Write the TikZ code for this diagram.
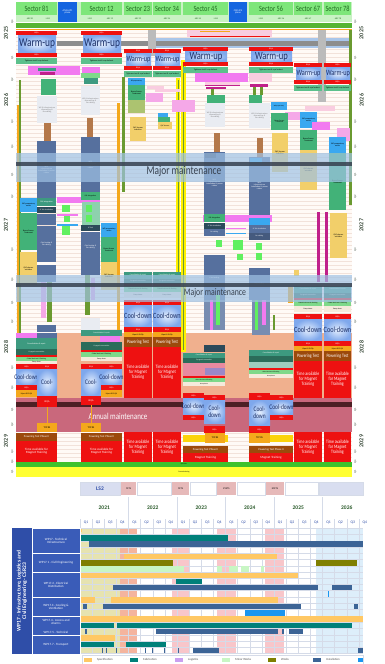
\documentclass[tikz,border=0pt]{standalone}
\usepackage{fontspec}
\setmainfont{Carlito}
\newfontfamily\cnd[FakeStretch=0.78]{Carlito}
\definecolor{cHd}{HTML}{7EE67A}\definecolor{cHdT}{HTML}{1F6A1F}\definecolor{cHsub}{HTML}{C9F2C4}
\definecolor{cIP}{HTML}{1565E0}\definecolor{cBand}{HTML}{55B534}\definecolor{cRd}{HTML}{EE1111}
\definecolor{cWuIn}{HTML}{E4EEFD}\definecolor{cWuOut}{HTML}{7FA8EC}\definecolor{cWuT}{HTML}{1C2F66}
\definecolor{cTg}{HTML}{5CC08C}\definecolor{cGray}{HTML}{8D8D8D}\definecolor{cLB}{HTML}{A9C6EA}
\definecolor{cSB}{HTML}{56709E}\definecolor{cBr}{HTML}{B4784A}\definecolor{cMj}{HTML}{9FC2E4}
\definecolor{cDk}{HTML}{36404E}\definecolor{cSal}{HTML}{F0B08E}\definecolor{cAn}{HTML}{C9687C}
\definecolor{cAnD}{HTML}{4D1F24}\definecolor{cPw}{HTML}{9C4A0C}\definecolor{cOr}{HTML}{F4A81C}
\definecolor{cYl}{HTML}{FFF000}\definecolor{cMg}{HTML}{F27AF0}\definecolor{cMgL}{HTML}{F5A8E8}
\definecolor{cMgD}{HTML}{C0208A}\definecolor{cLg}{HTML}{E9ECF2}\definecolor{cBs}{HTML}{3AA8F0}
\definecolor{cBst}{HTML}{42B278}\definecolor{cQx}{HTML}{F2CF6A}\definecolor{cTl}{HTML}{3D9A80}
\definecolor{cCream}{HTML}{F5EADB}\definecolor{cBg}{HTML}{FFFAF6}\definecolor{cLn}{HTML}{F2E2DA}
\definecolor{cOl}{HTML}{6A9A30}\definecolor{cGr}{HTML}{60F060}\definecolor{cGr2}{HTML}{7ED98A}
\definecolor{cDkT}{HTML}{2C4A5A}\definecolor{cPkL}{HTML}{F9CDE0}\definecolor{cRose}{HTML}{E88AA0}
\definecolor{cPur}{HTML}{9A88C8}\definecolor{cGrB}{HTML}{3FC22C}\definecolor{cYlB}{HTML}{FFFF33}
\definecolor{cAx}{HTML}{3A4A3A}
\definecolor{gSpec}{HTML}{FFC864}\definecolor{gFab}{HTML}{00807A}\definecolor{gLog}{HTML}{CAA0F0}
\definecolor{gMin}{HTML}{C8F6C4}\definecolor{gWrk}{HTML}{7F7F00}\definecolor{gIns}{HTML}{3C6496}
\definecolor{gBlue}{HTML}{1A96F0}\definecolor{gKh}{HTML}{E6E3B0}\definecolor{gSalm}{HTML}{F4B49E}
\definecolor{gPk}{HTML}{F8C6CA}\definecolor{gLb}{HTML}{DDEEFA}\definecolor{gHd}{HTML}{D9DEF0}
\definecolor{gNav}{HTML}{2F4EA8}\definecolor{gNav2}{HTML}{3A5CB8}\definecolor{gLine}{HTML}{D5DBE8}
\definecolor{gPkH}{HTML}{E6B9B9}\definecolor{gYr}{HTML}{2A5A2A}
\newcounter{nd}
\newcommand\R[5]{\path[#5] (#1,#2) rectangle (#3,#4);}
\newcommand\B[7]{\path[#5] (#1,#2) rectangle (#3,#4);\stepcounter{nd}\node[#6] (n\arabic{nd}) at ({(#1+#3)/2},{(#2+#4)/2}) {#7};}
\newcommand\WU[5]{%
 \B{#1}{#3}{#2}{#3+4}{fill=cRd}{tx=2,text=white}{EIQA}
 \B{#1+2}{#3+4}{#2-1}{#4}{wu}{cx=#5,text=cWuT}{Warm-up}
 \B{#1}{#4}{#2}{#4+3.5}{fill=cRd}{tx=2,text=white}{EIQA}
 \B{#1}{#4+4.5}{#2}{#4+11}{fill=cTg}{tx=2}{Tightness test \& cryo lockout}}
\newcommand\CD[6]{%
 \B{#1}{#3}{#2}{#3+5}{fill=cRd}{tx=2,text=white}{EIQA}
 \B{#1}{#3+5}{#2}{#4}{wu}{cx=#5,text=cWuT}{#6}
 \B{#1}{#4}{#2}{#4+5}{fill=cRd}{tx=2,text=white}{EIQA}}
\newcommand\LW[3]{%
 \B{#1}{272+#3}{#2}{279+#3}{fill=cTl}{tx=1.8,text=white}{Consolidation \& repair}
 \B{#1}{279+#3}{#2}{284+#3}{fill=cTl!70!black}{tx=1.8,text=white}{Cryogenic connection}
 \R{#1}{284+#3}{#2}{286+#3}{fill=cRd}
 \B{#1}{286+#3}{#2}{292+#3}{fill=cGr2}{tx=1.8}{Global leak test \& flushing}
 \B{#1}{292+#3}{#2}{298+#3}{fill=cCream}{tx=1.8}{Pump down}
 \CD{#1}{#2}{300+#3}{327+#3}{8}{Cool-down}
 \B{#1}{332+#3}{#2}{337+#3}{fill=cOr}{tx=2}{Hipot \& ELQA}
 \B{#1}{337+#3}{#2}{347+#3}{fill=cPw}{cx=5,text=white}{Powering Test}
 \B{#1}{347+#3}{#2}{398}{fill=cRd}{cx=5,text=white}{Time available\\for Magnet\\Training}
 \B{#1}{432}{#2}{462}{fill=cRd}{cx=5,text=white}{Time available\\for Magnet\\Training}}
\tikzset{
 tx/.style={inner sep=0pt,align=center,font=\fontsize{#1}{#1}\selectfont}, tx/.default=3,
 cx/.style={inner sep=0pt,align=center,font=\cnd\fontsize{#1}{#1}\selectfont}, cx/.default=8,
 txb/.style={inner sep=0pt,align=center,font=\bfseries\fontsize{#1}{#1}\selectfont}, txb/.default=5,
 wu/.style={inner color=cWuIn,outer color=cWuOut}
}
\begin{document}
\begin{tikzpicture}[x=1pt,y=-1pt]
\useasboundingbox (0,0) rectangle (384,664);
\fill[white] (0,0) rectangle (384,664);
% ===== header =====
\R{16}{2}{352}{22}{fill=cHsub}
\B{16}{2}{57}{15}{fill=cHd}{cx=8,text=cHdT}{Sector 81}
\B{81}{2}{122}{15}{fill=cHd}{cx=8,text=cHdT}{Sector 12}
\B{124}{2}{152}{15}{fill=cHd}{cx=8,text=cHdT}{Sector 23}
\B{153}{2}{181}{15}{fill=cHd}{cx=8,text=cHdT}{Sector 34}
\B{183}{2}{228}{15}{fill=cHd}{cx=8,text=cHdT}{Sector 45}
\B{249}{2}{293}{15}{fill=cHd}{cx=8,text=cHdT}{Sector 56}
\B{294}{2}{322}{15}{fill=cHd}{cx=8,text=cHdT}{Sector 67}
\B{324}{2}{351}{15}{fill=cHd}{cx=8,text=cHdT}{Sector 78}
\B{58}{2}{77}{22}{fill=cIP}{tx=2.5,text=white}{ATLAS IP1\\plane}
\B{229}{2}{247}{22}{fill=cIP}{tx=2.5,text=white}{CMS IP5\\plane}
\foreach \x/\t in {30/ARC 81,48/LSS1,90/LSS1,110/ARC 12,138/ARC 23,167/ARC 34,198/ARC 45,216/LSS5,261/LSS5,281/ARC 56,308/ARC 67,338/ARC 78}
  \node[tx=2.2,text=cHdT] (h\x) at (\x,18.5) {\t};
\R{16}{23}{352}{28}{fill=cBand}
\R{16}{28.5}{352}{29.5}{fill=cOr}
% ===== chart background =====
\R{16}{29.5}{352}{462}{fill=cBg}
\foreach \y in {33,37,...,460} \draw[cLn,line width=0.2pt] (16,\y) -- (352,\y);
\R{16}{333}{352}{398}{fill=cSal}
\R{16}{398}{352}{432}{fill=cAn}
\R{16}{402}{352}{407}{fill=cAnD}
\node[cx=9,text=white] (annual) at (118,416) {Annual maintenance};
% axis labels
\foreach \y/\t in {33/2025,100/2026,225/2027,347/2028,441/2029}{
  \node[txb=6,text=cAx,rotate=90] (yl\y) at (6,\y) {\t};
  \node[txb=6,text=cAx,rotate=90] (yr\y) at (361.5,\y) {\t};}
\foreach \y/\t in {22/Q4,58/Q1,80/Q2,122/Q3,147/Q4,175/Q1,197/Q2,250/Q3,280/Q4,303/Q1,322/Q2,368/Q3,388/Q4,410/Q1,425/Q2,452/Q3,462/Q4,472/Q1}{
  \node[tx=2.8,text=cAx,rotate=90] (ql\y) at (12.5,\y) {\t};
  \node[tx=2.8,text=cAx,rotate=90] (qr\y) at (355.5,\y) {\t};}
% top strip
\R{187}{30}{272}{37}{fill=cPkL}
\R{200}{31}{230}{32}{fill=cOr}
\R{190}{36}{270}{37}{fill=cRd}
\R{150}{38}{352}{48}{fill=cLB}
\R{57}{41}{352}{46}{fill=cGray}
\R{148}{29.5}{156}{56}{fill=cGray!60}
\R{318}{29.5}{326}{102}{fill=cGray!60}
% vertical strips
\R{17}{105}{19}{333}{fill=cOr}
\R{19}{80}{20.5}{333}{fill=cOl}
\R{117}{103}{120}{333}{fill=cOr}
\R{122}{77}{125}{192}{fill=cOl}
\R{349}{30}{352}{205}{fill=cOl}
\R{176}{78}{180}{287}{fill=cYl}
\R{181}{60}{186}{352}{fill=cYl}
\draw[cOl,line width=0.4pt] (178,80) -- (178,285) (183.5,62) -- (183.5,350);
% warm-ups
\WU{16}{57}{31}{53}{12}
\WU{81}{122}{31}{53}{12}
\WU{124}{152}{49}{66}{8}
\WU{153}{181}{49}{66}{8}
\WU{183}{228}{47}{62}{11}
\WU{249}{293}{47}{62}{11}
\WU{294}{322}{63}{80}{8}
\WU{324}{351}{63}{80}{8}
% ===== Sector 81 =====
\R{28}{66}{80}{75}{fill=cMg}
\R{38}{68}{56}{71}{fill=cTl}
\R{40}{72}{55}{75}{fill=cMgD}
\R{41}{79}{56}{95}{fill=cBst}
\B{37}{96}{57}{123}{fill=cLg}{tx=2,text=gray}{WS \& infrastructure\\dismantling \&\\Re-cabling}
\R{44}{123}{51}{141}{fill=cBr}
\B{37}{141}{56}{198}{fill=cSB}{tx=2,text=white}{WLS\\infrastructure\\installation \& power\\cables}
\B{37}{198}{56}{206}{fill=cTl}{tx=2,text=white}{DSL integration}
\B{37}{207}{56}{213}{fill=cDkT}{tx=1.8,text=white}{SC link installation}
\R{37}{214}{56}{225}{fill=cSB}
\B{37}{226}{56}{262}{fill=cSB}{tx=2,text=white}{Cold testing \&\\Re-cabling}
\B{20}{198}{37}{212}{fill=cBs}{tx=2}{WP preparatory\\works}
\B{20}{213}{37}{250}{fill=cBst}{tx=2}{Beam Screen\\Treatment}
\R{57}{197}{100}{203}{fill=cMg}
\R{62}{205}{70}{212}{fill=cGr}\R{64}{216}{70}{222}{fill=cGr}\R{62}{226}{70}{235}{fill=cGr}
\R{57}{214}{78}{215.5}{fill=cMg}\R{57}{224}{78}{225.5}{fill=cBs}
\B{20}{252}{37}{285}{fill=cQx}{tx=2}{QXF shower\\activities}
\R{37}{265}{56}{282}{fill=cSB}
\R{41}{282}{46}{318}{fill=cMgL}\R{47}{282}{52}{322}{fill=cOl}
\R{37}{325}{56}{332}{fill=cSB}
\R{16}{333}{37}{338}{fill=cMg}\R{37}{333}{57}{338}{fill=cSB}
\B{16}{338}{57}{349}{fill=cTl}{tx=2,text=white}{Consolidation \& repair}
\B{16}{349}{57}{355}{fill=cTl!70!black}{tx=1.8,text=white}{Cryogenic connection}
\R{16}{355}{57}{357}{fill=cRd}
\B{16}{357}{57}{361}{fill=cGr2}{tx=1.8}{Global leak test \& flushing}
\B{16}{361}{57}{364}{fill=cCream}{tx=1.8}{Pump down}
\CD{16}{37}{364}{385}{7}{Cool-down}
\B{16}{390}{37}{397}{fill=cOr}{tx=2}{Hipot \& ELQA}
\B{37}{364}{57}{369}{fill=cRd}{tx=2,text=white}{EIQA}
\B{37}{369}{57}{396}{wu}{cx=7,text=cWuT}{Cool-}
\B{37}{396}{57}{407}{fill=cRd}{tx=2.5,text=white}{EIQA}
\draw[cOr,line width=0.6pt] (47,407) -- (47,423);
\B{37}{423}{57}{432}{fill=cOr}{tx=2.5}{TFP RS}
\B{16}{433}{57}{441}{fill=cPw}{tx=2.8,text=white}{Powering Test Phase II}
\B{16}{441}{57}{462}{fill=cRd}{tx=3.2,text=white}{Time available for\\Magnet Training}
% ===== Sector 12 =====
\R{82}{67}{100}{73}{fill=cMg}\R{81}{73}{100}{78}{fill=cGr2}\R{84}{78}{98}{84}{fill=cTl}
\B{81}{86}{100}{115}{fill=cLg}{tx=2,text=gray}{WS \& infrastructure\\dismantling \&\\Re-cabling}
\R{87}{118}{93}{137}{fill=cBr}
\B{81}{137}{100}{192}{fill=cSB}{tx=2,text=white}{WLS\\infrastructure\\installation \& power\\cables}
\B{81}{192}{100}{200}{fill=cBst}{tx=1.8}{DSL integration}
\R{82}{202}{100}{225}{fill=cBst!60}
\R{86}{205}{92}{212}{fill=cGr}\R{86}{215}{92}{222}{fill=cGr}
\B{81}{225}{100}{231}{fill=cDkT}{tx=1.8,text=white}{SC link}
\B{81}{232}{100}{262}{fill=cSB}{tx=2,text=white}{Cold testing \&\\Re-cabling}
\B{101}{223}{117}{237}{fill=cBs}{tx=2}{WP preparatory\\works}
\B{101}{237}{117}{262}{fill=cBst}{tx=2}{Beam Screen\\Treatment}
\B{101}{262}{117}{290}{fill=cQx}{tx=2}{QXF shower\\activities}
\R{81}{262}{100}{275}{fill=cSB}\R{85}{275}{90}{315}{fill=cOl}\R{91}{278}{95}{300}{fill=cMgL}\R{81}{318}{100}{330}{fill=cLg}
\B{81}{330}{122}{336}{fill=cTl}{tx=1.8,text=white}{Consolidation \& repair}
\R{100}{336}{120}{342}{fill=cMg}
\B{81}{342}{122}{350}{fill=cTl!70!black}{tx=1.8,text=white}{Cryogenic connection}
\R{81}{350}{122}{352}{fill=cRd}
\B{81}{352}{122}{357}{fill=cGr2}{tx=1.8}{Global leak test \& flushing}
\B{81}{357}{122}{361}{fill=cCream}{tx=1.8}{Pump down}
\B{81}{364}{101}{369}{fill=cRd}{tx=2,text=white}{EIQA}
\B{81}{369}{101}{396}{wu}{cx=7,text=cWuT}{Cool-}
\B{81}{396}{101}{405}{fill=cRd}{tx=2.5,text=white}{EIQA}
\draw[cOr,line width=0.6pt] (91,405) -- (91,423);
\B{81}{423}{101}{432}{fill=cOr}{tx=2.5}{TFP RS}
\CD{101}{122}{364}{385}{7}{Cool-down}
\B{101}{390}{122}{397}{fill=cOr}{tx=2}{Hipot \& ELQA}
\B{81}{433}{122}{441}{fill=cPw}{tx=2.8,text=white}{Powering Test Phase II}
\B{81}{441}{122}{462}{fill=cRd}{tx=3.2,text=white}{Time available for\\Magnet Training}
% ===== Sectors 23 / 34 =====
\B{128}{78}{145}{85}{fill=cBs}{tx=1.8}{BS preparatory}
\B{128}{85}{145}{100}{fill=cBst}{tx=2}{Beam Screen\\Treatment}
\R{128}{100}{145}{113}{fill=cQx!60!cBst}
\B{130}{117}{146}{141}{fill=cQx}{tx=2}{QXF shower\\activities}
\R{147}{86}{164}{89}{fill=cPkL}\R{146}{93}{163}{102}{fill=cMgL}
\R{155}{89}{180}{92}{fill=cPkL}
\R{172}{100}{195}{112}{fill=cMgL}
\R{158}{113}{168}{117}{fill=cBs}\R{158}{117}{170}{122}{fill=cBst}
\B{158}{122}{172}{129}{fill=cQx}{tx=1.8}{QXF shower}
\LW{124}{152}{0}
\LW{153}{181}{0}
% ===== Sector 45 =====
\R{195}{73}{248}{82}{fill=cMg}
\R{205}{82}{240}{85.5}{fill=cPkL}
\R{205}{85}{240}{86}{fill=cMgD}\R{206}{87}{226}{89}{fill=cMgD}
\R{211}{89}{214}{96}{fill=cOl}\R{207}{95}{225}{103}{fill=cBst}
\B{205}{103}{225}{127}{fill=cLg}{tx=2,text=gray}{WS \& infrastructure\\dismantling \&\\Re-cabling}
\R{214}{133}{220}{152}{fill=cBr}
\B{204}{152}{225}{214}{fill=cSB}{tx=2,text=white}{WLS\\infrastructure\\installation \& power\\cables}
\R{205}{153}{216}{158}{fill=cSB!70!black}
\R{203}{215}{272}{222}{fill=cMg}
\B{204}{214}{225}{222}{fill=cBst}{tx=1.8}{DSL integration}
\B{204}{223}{225}{229}{fill=cDkT}{tx=1.8,text=white}{SC link installation}
\B{204}{229}{225}{236}{fill=cSB}{tx=1.8,text=white}{Re-cabling}
\R{226}{228}{246}{229}{fill=cMg}\R{226}{233}{246}{234}{fill=cBs}
\R{216}{240}{222}{247}{fill=cGr}\R{233}{240}{243}{250}{fill=cGr}\R{237}{254}{243}{260}{fill=cGr}
\B{204}{255}{225}{300}{fill=cSB}{tx=2,text=white}{Cold testing}
\R{204}{300}{225}{330}{fill=cSB!80}
\R{210}{300}{213}{330}{fill=cMg}\R{216}{295}{220}{325}{fill=cGr}
\R{204}{345}{225}{352}{fill=cDkT}
\B{183}{353}{225}{358}{fill=cTl}{tx=1.8,text=white}{Consolidation \& repair}
\B{183}{358}{225}{363}{fill=cTl!70!black}{tx=1.8,text=white}{Cryogenic connection}
\R{183}{363}{225}{376}{fill=cRose}
\R{205}{368}{225}{375}{fill=cPur}
\R{183}{376}{225}{378}{fill=cRd}
\B{183}{378}{225}{382}{fill=cGr2}{tx=1.6}{Global leak test \& flushing}
\B{183}{382}{225}{386}{fill=cCream}{tx=1.6}{Pump down}
\CD{183}{204}{393}{415}{7}{Cool-down}
\B{204}{395}{225}{400}{fill=cRd}{tx=2,text=white}{EIQA}
\B{204}{400}{225}{423}{wu}{cx=7,text=cWuT}{Cool-\\down}
\B{204}{426}{225}{433}{fill=cRd}{tx=2,text=white}{EIQA}
\R{183}{435}{228}{442}{fill=cYl!60!cOr}
\B{205}{433}{225}{443}{fill=cOr}{tx=2.5}{TFP RS}
\B{183}{446}{228}{453}{fill=cPw}{tx=2.8,text=white}{Powering Test Phase II}
\B{183}{453}{228}{462}{fill=cRd}{tx=3.2,text=white}{Magnet Training}
% ===== Sector 56 and right =====
\R{249}{73}{272}{82}{fill=cPkL}\R{250}{84}{268}{87}{fill=cMgD}
\R{253}{87}{256}{95}{fill=cOl}\R{260}{87}{263}{95}{fill=cOl}
\R{249}{95}{262}{103}{fill=cBst}
\B{249}{103}{270}{128}{fill=cLg}{tx=2,text=gray}{WS \& infrastructure\\dismantling \&\\Re-cabling}
\B{271}{102}{287}{110}{fill=cBs}{tx=1.6}{WP preparatory}
\R{285}{112}{305}{120}{fill=cMgL}
\R{305}{106}{335}{111}{fill=cPkL}
\B{271}{113}{288}{130}{fill=cBst}{tx=1.8}{Beam Screen\\Treatment}
\B{300}{112}{317}{128}{fill=cBs}{tx=2}{WP preparatory\\works}
\R{312}{122}{330}{130}{fill=cMg}
\R{337}{128}{350}{141}{fill=cMgL}
\R{257}{138}{263}{157}{fill=cBr}
\B{249}{157}{270}{215}{fill=cSB}{tx=2,text=white}{WLS\\infrastructure\\installation \& power\\cables}
\R{250}{158}{262}{163}{fill=cBs}
\B{272}{133}{288}{172}{fill=cQx}{tx=2}{QXF shower\\activities}
\B{300}{130}{317}{150}{fill=cBst}{tx=2}{Beam Screen\\Treatment}
\B{300}{150}{317}{190}{fill=cQx}{tx=2}{QXF shower\\activities}
\B{329}{137}{346}{153}{fill=cBs}{tx=2}{WP preparatory\\works}
\B{329}{153}{346}{210}{fill=cBst}{tx=2}{Beam Screen\\Treatment}
\B{330}{213}{347}{258}{fill=cQx}{tx=2}{QXF shower\\activities}
\R{317}{212}{320}{282}{fill=cMgD}\R{325}{212}{328}{282}{fill=cMgD}
\R{249}{218}{270}{225}{fill=cBs}
\B{249}{225}{270}{233}{fill=cSB}{tx=1.8,text=white}{SC link installation}
\B{249}{233}{270}{240}{fill=cSB!80!black}{tx=1.8,text=white}{Re-cabling}
\R{256}{243}{262}{250}{fill=cGr}\R{256}{253}{262}{260}{fill=cGr}
\B{249}{268}{270}{300}{fill=cSB}{tx=2,text=white}{Cold testing}
\R{252}{300}{270}{335}{fill=cSB!80}
\R{255}{300}{258}{330}{fill=cGr}\R{262}{300}{266}{325}{fill=cMg}
\R{273}{315}{275}{330}{fill=cOl}
\R{288}{287}{293}{303}{fill=cOr}\R{294}{270}{299}{276}{fill=cQx}
\B{249}{350}{293}{356}{fill=cTl}{tx=1.8,text=white}{Consolidation \& repair}
\R{249}{356}{293}{362}{fill=cTl!70!black}
\R{249}{362}{293}{368}{fill=cTl!50}
\R{249}{368}{293}{370}{fill=cRd}
\B{249}{370}{293}{374}{fill=cGr2}{tx=1.6}{Global leak test \& flushing}
\B{249}{374}{293}{378}{fill=cCream}{tx=1.6}{Pump down}
\B{249}{393}{270}{400}{fill=cRd}{tx=2,text=white}{EIQA}
\B{249}{400}{270}{425}{wu}{cx=7,text=cWuT}{Cool-\\down}
\B{249}{426}{270}{433}{fill=cRd}{tx=2,text=white}{EIQA}
\CD{270}{293}{395}{415}{7}{Cool-down}
\R{249}{435}{293}{442}{fill=cYl!60!cOr}
\B{249}{433}{270}{443}{fill=cOr}{tx=2.5}{TFP RS}
\B{249}{446}{293}{453}{fill=cPw}{tx=2.8,text=white}{Powering Test Phase II}
\B{249}{453}{293}{462}{fill=cRd}{tx=3.2,text=white}{Magnet Training}
\LW{294}{322}{14}
\LW{324}{351}{14}
% ===== major maintenance bands =====
\fill[cMj,opacity=0.7] (16,153) rectangle (352,182);
\fill[cDk,opacity=0.85] (16,162) rectangle (352,166);
\node[cx=12,text=cDk] (mm1) at (184,171) {Major maintenance};
\fill[cMj,opacity=0.7] (16,275) rectangle (352,302);
\fill[cDk,opacity=0.85] (16,283) rectangle (352,287);
\node[cx=10,text=cDk] (mm2) at (215,293) {Major maintenance};
% bottom bars
\B{16}{462}{352}{467}{fill=cGrB}{tx=1.5}{Operation}
\B{16}{467}{352}{477}{fill=cYlB}{tx=1.8}{Commissioning}
% ===== Gantt =====
\B{80}{482}{120}{495}{fill=gHd,draw=gLine}{txb=5.5,text=gNav}{LS2}
\B{121}{482}{136}{495}{fill=gPkH}{tx=2.5}{YETS}
\R{137}{482}{171}{495}{fill=white,draw=gLine}
\B{172}{482}{189}{495}{fill=gPkH}{tx=2.5}{YETS}
\R{190}{482}{216}{495}{fill=white,draw=gLine}
\B{217}{482}{236}{495}{fill=gPkH}{tx=2.5}{EYETS}
\R{237}{482}{265}{495}{fill=white,draw=gLine}
\B{266}{482}{284}{495}{fill=gPkH}{tx=2.5}{EYETS}
\R{285}{482}{318}{495}{fill=white,draw=gLine}
\R{319}{482}{363}{495}{fill=gHd,draw=gLine}
\foreach \i/\t in {0/2021,1/2022,2/2023,3/2024,4/2025,5/2026}
  \node[txb=5.5,text=gYr] (yr\t) at ({80+48.5*\i+24.25},508) {\t};
\foreach \q in {0,...,23}{
  \pgfmathtruncatemacro\qq{mod(\q,4)+1}
  \node[tx=3.8,text=gNav] (q\q) at ({80+12.125*\q+6},523) {Q\qq};}
% background fills
\R{80}{528}{120}{653}{fill=gKh}
\R{120}{528}{137}{653}{fill=gSalm}
\R{172}{528}{189}{653}{fill=gPk}
\R{217}{528}{236}{653}{fill=gPk}
\R{265}{528}{284}{653}{fill=gPk}
\R{316}{528}{363}{653}{fill=gLb}
\foreach \q in {0,...,23} \draw[gLine,line width=0.3pt] ({80+12.125*\q},519) -- ({80+12.125*\q},653);
\foreach \q in {1,...,5} \draw[gLine,line width=0.5pt] ({80+48.5*\q},497) -- ({80+48.5*\q},519);
\foreach \y in {528,534.5,541,547,553,559.5,566,572,578,584,590,597,603,609,616,622,628,635,641,647,653}
  \draw[gLine,line width=0.3pt] (80,\y) -- (363,\y);
% bars
\R{80}{528.5}{82}{532}{fill=gSpec}
\R{80}{535}{228}{540.5}{fill=gFab}
\R{89}{541}{363}{547}{fill=gIns}
\R{124}{553.5}{277}{559}{fill=gSpec}
\R{80}{560}{173}{565.5}{fill=gWrk}\R{316}{560}{357}{565.5}{fill=gWrk}
\R{80}{566}{184}{571.5}{fill=gMin}\R{217}{566}{222}{571.5}{fill=gMin}\R{229}{566}{238}{571.5}{fill=gMin}
\R{241}{566}{249}{571.5}{fill=gMin}\R{261}{566}{264}{571.5}{fill=gMin}
\R{80}{572.5}{298}{578}{fill=gSpec}
\R{176}{578.5}{202}{584}{fill=gFab}
\R{113}{584.5}{318}{590}{fill=gIns}\R{332}{584.5}{352}{590}{fill=gIns}
\R{328}{591}{329.3}{597}{fill=gBlue}
\R{80}{597}{95}{603}{fill=gSpec}\R{111}{597}{278}{603}{fill=gSpec}
\R{83}{603.5}{87}{609}{fill=gIns}\R{103}{603.5}{301}{609}{fill=gIns}\R{354}{603.5}{358}{609}{fill=gIns}
\R{245}{609.5}{285}{615.5}{fill=gBlue}
\R{80}{616}{363}{622}{fill=gSpec}
\R{80}{622.5}{114}{628}{fill=gFab}\R{117}{622.5}{352}{628}{fill=gFab}
\R{85}{629}{86.5}{634}{fill=gIns}\R{156}{629}{278}{634}{fill=gIns}\R{282}{629}{284}{634}{fill=gIns}\R{289}{629}{303}{634}{fill=gIns}
\R{80}{635}{115}{641}{fill=gSpec}
\R{80}{641.5}{114}{647}{fill=gFab}\R{126}{641.5}{166}{647}{fill=gFab}
\foreach \x in {102,106,116,145,152,164,178} \R{\x}{648}{\x+1.2}{653}{fill=gIns}
\R{193}{648}{219}{653}{fill=gIns}\R{358}{648}{363}{653}{fill=gIns}
% left labels
\R{12}{528}{32}{654}{fill=gNav}
\foreach \a/\b in {528/553,553/572,572/597,597/616,616/635,635/654}
  \path[fill=gNav2,draw=white,line width=0.6pt] (32,\a) rectangle (80,\b);
\node[txb=5.5,text=white,rotate=90] (wp) at (22,591) {WP17 - Infrastructure, Logistics and\\Civil Engineering - CSR23};
\node[tx=3.2,text=white] (r1) at (56,540.5) {WP17 - Technical\\Infrastructure};
\node[tx=3.2,text=white] (r2) at (56,562.5) {WP17.1 - Civil Engineering};
\node[tx=3.2,text=white] (r3) at (56,584.5) {WP17.2 - Electrical\\Distribution};
\node[tx=3.2,text=white] (r4) at (56,606.5) {WP17.3 - Cooling \&\\Ventilation};
\node[tx=3.2,text=white] (r5) at (56,621.5) {WP17.4 - Access and\\Alarms};
\node[tx=3.2,text=white] (r6) at (56,632) {WP17.5 - Technical};
\node[tx=3.2,text=white] (r7) at (56,644.5) {WP17.7 - Transport};
% legend
\R{82}{655}{363}{664}{fill=white,draw=gLine}
\foreach \x/\c/\t in {84/gSpec/Specification,130/gFab/Fabrication,175/gLog/Logistics,222/gMin/Minor Works,268/gWrk/Works,313/gIns/Installation}{
  \R{\x}{657.5}{\x+8}{661.5}{fill=\c}
  \node[tx=3,anchor=west,text=black!70] (lg\x) at (\x+13,659.5) {\t};}
\R{358}{657.5}{363}{661.5}{fill=gBlue}
\end{tikzpicture}
\end{document}
